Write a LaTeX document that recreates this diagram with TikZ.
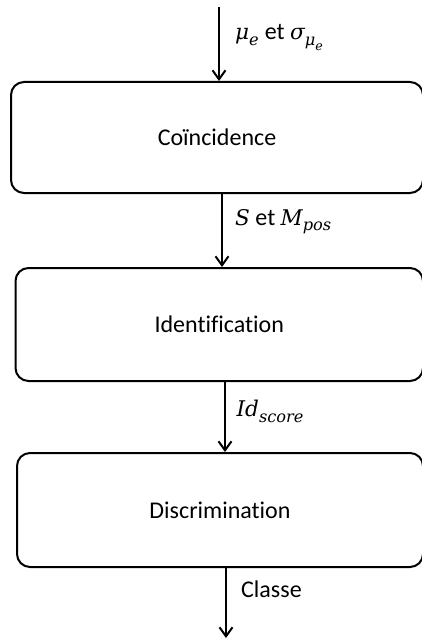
\documentclass[tikz,border=0pt]{standalone}
\usepackage{fontspec}
\usepackage{unicode-math}
\setmainfont{Carlito}[Ligatures={NoCommon,TeX}]
\setmathfont{Latin Modern Math}
\setmathfont[range={it,up/{greek,Greek}},Scale=0.9]{DejaVu Serif Italic}
\DeclareMathSizes{24}{24}{18}{14}
\usetikzlibrary{arrows.meta}
\begin{document}
\begin{tikzpicture}[x=1pt,y=-1pt,
  box/.style={draw=black,line width=2pt,rounded corners=13pt,inner sep=0pt,
    font=\fontsize{24}{28}\selectfont},
  arr/.style={draw=black,line width=2pt,-{Straight Barb[length=9pt,width=13pt,line width=2pt]}},
  lab/.style={inner sep=0pt,anchor=base west,font=\fontsize{24}{28}\selectfont}]
\useasboundingbox (0,0) rectangle (422,639);
\clip (0,0) rectangle (422,639);
\node[box,minimum width=412pt,minimum height=111pt] (b1) at (217,137.5) {Coïncidence};
\node[box,minimum width=407.5pt,minimum height=113pt] (b2) at (219.25,324.5) {Identification};
\node[box,minimum width=406pt,minimum height=114pt] (b3) at (220,510) {Discrimination};
\coordinate (in) at (219,7);
\coordinate (x2) at (222,0);
\coordinate (x3) at (225,0);
\coordinate (out) at (226,638);
\draw[arr] (in) -- (in |- b1.north);
\draw[arr] (x2 |- b1.south) -- (x2 |- b2.north);
\draw[arr] (x3 |- b2.south) -- (x3 |- b3.north);
\draw[arr] (out |- b3.south) -- (out);
\node[lab] (l1) at (235,40) {$\mu_e$ et $\sigma_{\mu_e}$};
\node[lab] (l2) at (235,225) {$S$ et $M_{pos}$};
\node[lab] (l3) at (236.5,416.5) {$Id_{score}$};
\node[lab] (l4) at (241,597) {Classe};
\end{tikzpicture}
\end{document}
